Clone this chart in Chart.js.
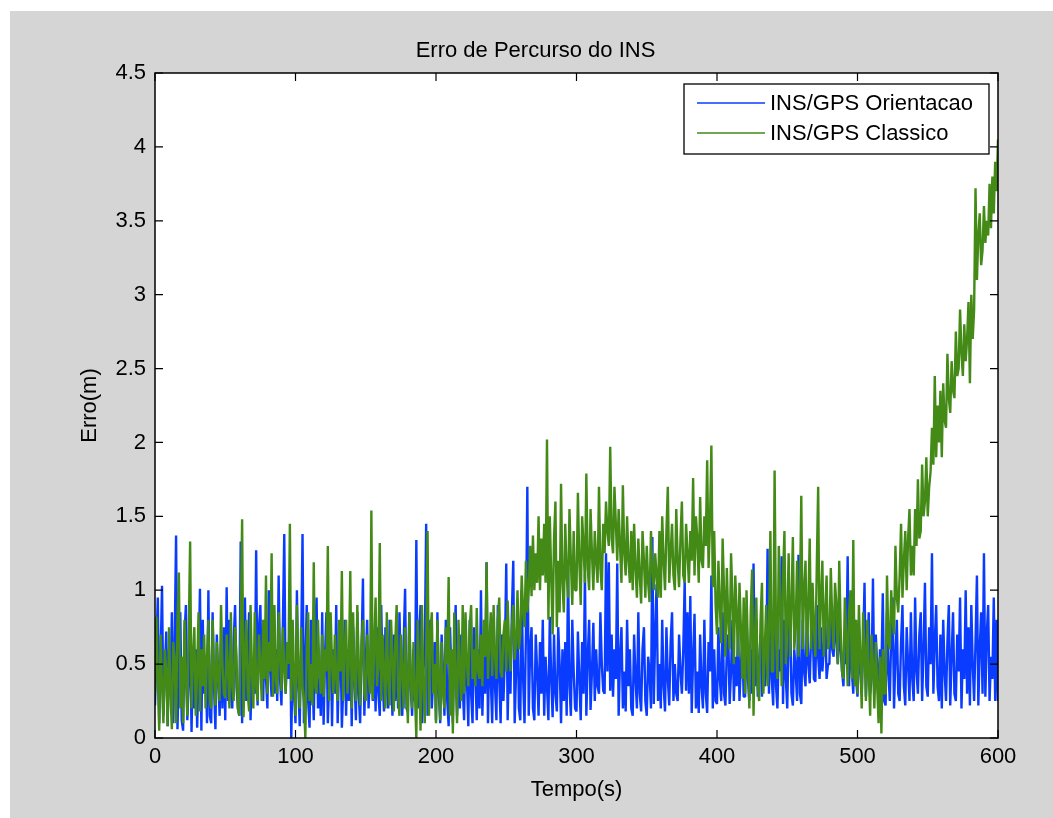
<!DOCTYPE html>
<html>
<head>
<meta charset="utf-8">
<title>Erro de Percurso do INS</title>
<script src="https://cdn.jsdelivr.net/npm/chart.js@4.4.1/dist/chart.umd.min.js"></script>
<style>
  html, body { margin: 0; padding: 0; background: #fff; }
  #wrap { width: 1053px; height: 818px; }
</style>
</head>
<body>
<div id="wrap"><canvas id="erroChart" width="1053" height="818"></canvas></div>
<script>
const dt = 1; // intervalo entre amostras (s)
const seriesLabels = ["INS/GPS Orientacao", "INS/GPS Classico"];
const xTicks = [0, 100, 200, 300, 400, 500, 600];
const yTicks = [0, 0.5, 1, 1.5, 2, 2.5, 3, 3.5, 4, 4.5];

// erro de percurso (m), uma amostra por segundo, de 0 a 600 s (20 s por linha)
const erroOrientacao = [
  0.22, 0.60, 0.95, 0.10, 0.55, 1.03, 0.15, 0.45, 0.72, 0.08, 0.60, 0.30, 0.85, 0.10, 0.65, 1.37, 0.06, 0.50, 0.85, 0.12,
  0.05, 0.70, 0.90, 0.12, 0.40, 0.75, 0.04, 0.55, 0.20, 0.60, 0.07, 0.45, 1.01, 0.05, 0.80, 0.30, 0.55, 0.10, 1.00, 0.15,
  0.10, 0.85, 0.35, 0.06, 0.70, 0.40, 0.15, 0.65, 0.20, 0.75, 0.12, 1.02, 0.25, 0.80, 0.30, 0.20, 0.65, 0.90, 0.35, 0.20,
  0.15, 1.33, 0.10, 0.70, 0.95, 0.25, 0.60, 0.85, 0.12, 0.50, 0.40, 0.30, 1.27, 0.22, 0.75, 0.90, 0.35, 0.25, 0.80, 0.40,
  0.20, 1.00, 0.45, 0.28, 0.85, 0.30, 0.60, 0.25, 1.10, 0.40, 0.22, 0.75, 1.38, 0.30, 0.65, 0.40, 0.95, 0.00, 0.55, 0.30,
  0.10, 1.00, 0.35, 0.08, 0.60, 1.38, 0.10, 0.50, 0.90, 0.25, 0.07, 0.80, 0.45, 0.12, 0.70, 0.95, 0.20, 0.40, 0.15, 0.85,
  0.09, 0.55, 0.85, 0.10, 0.40, 0.75, 0.08, 0.60, 0.30, 0.90, 0.10, 0.50, 0.70, 0.07, 0.35, 0.80, 0.15, 0.60, 0.25, 0.70,
  0.08, 0.75, 0.40, 0.12, 0.85, 0.30, 0.10, 0.60, 1.08, 0.15, 0.50, 0.80, 0.20, 0.45, 0.70, 0.25, 0.60, 0.18, 0.75, 0.30,
  0.15, 0.90, 0.40, 0.18, 0.75, 0.35, 0.20, 0.80, 0.50, 0.15, 0.70, 0.25, 0.60, 0.20, 0.85, 0.40, 0.15, 0.65, 1.01, 0.20,
  0.18, 0.85, 0.35, 0.15, 0.60, 0.25, 1.34, 0.20, 0.70, 0.90, 0.10, 0.45, 0.60, 1.45, 0.15, 0.55, 0.80, 0.20, 0.40, 0.65,
  0.12, 0.85, 0.30, 0.10, 0.70, 0.45, 0.15, 0.80, 0.25, 0.08, 0.75, 0.40, 0.10, 0.60, 0.90, 0.15, 0.50, 0.20, 0.70, 0.35,
  0.12, 0.70, 0.40, 0.08, 0.80, 0.30, 0.10, 0.75, 0.45, 0.12, 0.60, 0.20, 1.00, 0.15, 0.55, 0.30, 1.19, 0.10, 0.65, 0.40,
  0.10, 0.80, 0.35, 0.12, 0.90, 0.40, 0.10, 0.70, 0.25, 0.55, 1.18, 0.12, 0.60, 0.30, 0.85, 1.20, 0.10, 0.45, 0.85, 0.20,
  0.12, 1.00, 0.40, 0.10, 0.70, 1.70, 0.15, 0.60, 0.75, 0.20, 0.12, 0.70, 0.45, 0.15, 0.65, 0.30, 0.80, 0.15, 0.55, 0.35,
  0.12, 0.82, 0.40, 0.14, 0.70, 0.30, 0.18, 0.75, 0.50, 0.10, 0.60, 0.25, 0.65, 0.15, 1.15, 0.35, 0.15, 0.80, 0.45, 0.20,
  0.18, 0.72, 0.40, 0.12, 0.65, 0.30, 1.11, 0.15, 0.55, 0.80, 0.19, 0.45, 0.78, 0.25, 0.60, 0.35, 0.30, 0.85, 0.50, 0.32,
  0.30, 1.25, 0.45, 1.19, 0.32, 0.70, 0.28, 0.60, 0.40, 1.18, 0.15, 0.55, 0.75, 0.20, 0.45, 0.18, 0.80, 0.35, 0.60, 0.20,
  0.15, 0.70, 0.40, 0.20, 0.85, 0.30, 0.18, 0.60, 0.75, 0.25, 0.15, 0.55, 0.45, 0.20, 1.36, 0.23, 0.70, 1.04, 0.25, 0.50,
  0.20, 0.80, 0.35, 0.18, 0.75, 0.40, 0.22, 0.65, 0.85, 0.25, 0.50, 0.30, 0.25, 0.70, 0.45, 0.30, 0.60, 1.06, 0.32, 0.85,
  0.30, 0.96, 0.17, 0.55, 0.84, 0.20, 0.45, 0.17, 0.70, 0.35, 0.20, 0.80, 0.30, 0.17, 0.65, 0.45, 1.10, 0.20, 0.60, 0.25,
  0.23, 0.75, 0.40, 0.25, 0.85, 0.30, 0.22, 0.60, 0.70, 0.23, 0.45, 0.80, 0.25, 0.55, 0.35, 0.75, 0.25, 0.50, 0.65, 0.28,
  0.28, 0.85, 0.40, 0.25, 0.60, 0.30, 1.18, 0.35, 0.80, 0.28, 0.50, 0.70, 0.28, 0.60, 0.35, 0.45, 1.28, 0.30, 0.85, 0.40,
  0.22, 0.90, 0.35, 0.20, 0.60, 0.45, 1.23, 0.23, 0.80, 0.40, 0.20, 0.70, 0.85, 0.30, 0.22, 0.60, 0.45, 0.25, 1.24, 0.30,
  0.23, 0.80, 0.45, 0.35, 0.85, 0.50, 0.37, 0.70, 0.80, 0.40, 0.38, 0.90, 0.55, 0.40, 0.75, 0.45, 0.60, 0.85, 0.40, 0.50,
  0.50, 0.95, 0.60, 0.55, 0.90, 0.65, 0.50, 0.80, 0.60, 0.45, 0.35, 0.70, 0.50, 1.23, 0.35, 0.85, 0.45, 0.30, 0.80, 0.40,
  0.28, 0.75, 0.45, 0.30, 0.60, 1.05, 0.28, 0.55, 0.85, 0.30, 0.40, 1.08, 0.30, 0.70, 0.50, 0.25, 0.60, 0.45, 0.98, 0.25,
  0.22, 0.85, 0.45, 0.25, 0.70, 0.95, 0.20, 0.55, 0.80, 0.30, 0.25, 0.65, 0.90, 0.35, 0.22, 0.75, 0.50, 0.25, 0.85, 0.40,
  0.25, 0.95, 0.45, 0.30, 0.70, 0.85, 0.25, 0.60, 1.05, 0.35, 0.28, 0.75, 0.50, 1.25, 0.30, 0.65, 0.90, 0.35, 0.25, 0.70,
  0.20, 0.80, 0.45, 0.25, 0.65, 0.90, 0.22, 0.55, 0.85, 0.30, 0.25, 0.70, 0.45, 0.95, 0.20, 0.60, 0.40, 1.00, 0.30, 0.75,
  0.22, 0.90, 0.50, 0.25, 0.65, 1.10, 0.22, 0.60, 0.85, 0.30, 1.25, 0.28, 0.70, 0.90, 0.25, 0.55, 0.40, 0.95, 0.25, 0.80,
  0.25
];

const erroClassico = [
  0.30, 0.82, 0.40, 0.05, 0.70, 0.35, 0.10, 0.60, 0.45, 0.08, 0.75, 0.30, 0.06, 0.65, 0.50, 0.10, 0.80, 1.12, 0.20, 0.55,
  0.10, 0.80, 0.40, 0.15, 0.70, 1.33, 0.20, 0.55, 0.75, 0.15, 0.45, 0.85, 0.18, 0.60, 0.35, 0.70, 0.20, 0.55, 0.80, 0.25,
  0.20, 0.80, 0.45, 0.22, 0.65, 0.40, 0.25, 0.90, 0.50, 0.30, 0.27, 0.70, 0.45, 0.20, 0.85, 0.35, 0.25, 0.75, 0.55, 0.20,
  0.15, 0.70, 1.48, 0.14, 0.55, 0.80, 0.30, 0.18, 0.90, 0.45, 0.20, 0.85, 0.35, 0.25, 0.70, 0.50, 0.25, 0.80, 0.40, 1.10,
  0.30, 0.65, 0.45, 1.25, 0.28, 0.90, 0.40, 0.30, 0.85, 0.55, 0.32, 0.75, 0.45, 0.30, 0.65, 0.50, 1.45, 0.25, 0.80, 0.40,
  0.15, 0.90, 0.45, 0.20, 0.75, 0.35, 0.25, 0.00, 0.60, 0.85, 0.25, 0.50, 0.22, 1.19, 0.35, 0.30, 0.80, 0.45, 0.30, 0.70,
  0.28, 0.60, 0.45, 1.30, 0.25, 0.85, 0.50, 0.30, 0.70, 0.40, 0.25, 0.80, 0.45, 1.13, 0.25, 0.60, 0.80, 0.30, 0.50, 1.13,
  0.20, 0.85, 0.40, 0.25, 0.90, 0.50, 0.22, 0.65, 0.80, 0.30, 0.25, 0.70, 0.45, 0.30, 1.54, 0.26, 0.60, 0.95, 0.35, 0.50,
  1.32, 0.25, 0.70, 0.45, 0.20, 0.85, 0.40, 0.22, 0.80, 0.55, 0.18, 0.65, 0.90, 0.30, 0.15, 0.70, 0.45, 0.20, 0.75, 0.35,
  0.10, 0.85, 0.40, 0.20, 0.65, 0.30, 0.00, 0.80, 0.45, 0.05, 0.90, 0.35, 0.10, 0.60, 1.40, 0.15, 0.70, 0.85, 0.30, 0.50,
  0.10, 0.80, 0.40, 0.12, 0.65, 0.30, 0.20, 0.75, 0.50, 1.09, 0.15, 0.60, 0.03, 0.85, 0.40, 0.10, 0.80, 0.45, 0.25, 0.90,
  0.30, 0.85, 0.50, 0.35, 0.75, 0.90, 0.40, 0.60, 0.35, 0.88, 0.45, 0.40, 0.70, 0.35, 0.80, 0.55, 1.19, 0.40, 0.65, 0.85,
  0.42, 0.90, 0.55, 0.40, 0.80, 0.95, 0.45, 0.41, 0.70, 0.80, 0.45, 0.93, 0.60, 0.45, 0.75, 0.90, 0.53, 0.65, 1.00, 0.60,
  0.70, 1.10, 0.85, 0.75, 1.20, 0.85, 1.00, 1.30, 0.96, 1.37, 1.00, 1.25, 1.05, 1.50, 1.00, 1.35, 1.10, 1.45, 1.05, 2.02,
  0.80, 1.50, 1.10, 0.70, 1.35, 1.60, 0.75, 1.20, 0.85, 1.72, 1.05, 0.85, 1.45, 1.10, 0.95, 1.55, 1.20, 0.90, 1.40, 1.00,
  1.00, 1.66, 1.20, 0.90, 1.50, 1.30, 1.05, 1.79, 1.15, 1.00, 1.55, 1.25, 1.00, 1.40, 1.20, 1.05, 1.70, 1.15, 1.00, 1.45,
  1.25, 1.60, 1.40, 1.30, 1.97, 1.35, 1.25, 1.70, 1.45, 1.20, 1.55, 1.30, 1.05, 1.71, 1.25, 1.10, 1.50, 1.20, 1.05, 1.40,
  1.00, 1.45, 1.15, 0.95, 1.35, 1.10, 0.91, 1.40, 1.20, 0.95, 1.30, 1.05, 0.92, 1.40, 1.15, 1.00, 1.25, 1.10, 0.95, 1.40,
  0.95, 1.50, 1.20, 1.00, 1.40, 1.70, 1.05, 1.25, 1.45, 1.10, 1.00, 1.55, 1.20, 1.02, 1.35, 1.60, 1.10, 1.05, 1.45, 1.25,
  1.05, 1.40, 1.20, 1.76, 1.10, 1.50, 1.35, 1.05, 1.63, 1.20, 1.15, 1.50, 1.30, 1.88, 1.15, 1.45, 1.98, 1.02, 1.40, 0.90,
  0.70, 1.20, 0.90, 0.64, 1.35, 1.00, 0.55, 1.15, 0.80, 0.60, 1.25, 0.95, 0.50, 1.10, 0.85, 0.55, 1.05, 0.75, 0.40, 0.95,
  0.30, 1.00, 0.60, 0.20, 0.85, 1.14, 0.15, 0.70, 0.95, 0.35, 0.25, 0.80, 1.05, 0.30, 0.60, 0.90, 0.35, 0.75, 1.40, 0.45,
  0.45, 1.81, 0.70, 0.40, 1.30, 0.95, 0.35, 1.10, 1.40, 0.50, 0.80, 1.25, 0.55, 0.90, 1.36, 0.60, 0.75, 1.20, 0.55, 0.95,
  1.64, 0.60, 1.00, 1.20, 0.55, 0.90, 1.35, 0.60, 1.05, 0.75, 0.55, 1.15, 1.70, 0.60, 0.95, 1.20, 0.55, 0.85, 1.10, 0.60,
  0.65, 1.15, 0.80, 0.60, 1.05, 0.90, 0.50, 1.20, 0.75, 0.45, 0.40, 0.95, 0.70, 0.35, 0.85, 1.00, 0.40, 1.34, 0.35, 0.80,
  0.30, 0.90, 0.55, 0.20, 0.85, 0.60, 0.25, 0.80, 0.45, 0.15, 0.70, 0.50, 0.20, 0.65, 0.35, 0.10, 0.55, 0.03, 0.60, 0.30,
  0.30, 1.10, 0.65, 0.60, 1.00, 0.80, 0.70, 1.30, 0.95, 0.85, 1.10, 1.45, 0.95, 1.20, 1.40, 1.00, 1.35, 1.55, 1.10, 1.30,
  1.10, 1.55, 1.30, 1.75, 1.35, 1.40, 1.85, 1.50, 1.60, 1.90, 1.50, 1.70, 1.80, 2.10, 1.85, 2.45, 1.90, 2.25, 2.00, 2.35,
  1.90, 2.40, 2.15, 2.10, 2.60, 2.30, 2.20, 2.55, 2.35, 2.30, 2.75, 2.45, 2.50, 2.90, 2.60, 2.45, 2.80, 2.55, 2.70, 2.95,
  2.40, 3.00, 2.70, 2.90, 3.72, 3.10, 3.40, 3.55, 3.20, 3.30, 3.60, 3.35, 3.50, 3.40, 3.75, 3.45, 3.80, 3.55, 3.90, 3.70,
  4.05
];

const toPoints = vals => vals.map((v, i) => ({ x: i * dt, y: v }));

const FONT = "'Liberation Sans', Arial, Helvetica, sans-serif";
Chart.defaults.font.family = FONT;
Chart.defaults.font.size = 22;
Chart.defaults.color = '#000';

// fundo cinza da figura, caixa dos eixos com marcas para dentro
const axesBox = {
  id: 'axesBox',
  beforeDraw(chart) {
    const { ctx, chartArea: a } = chart;
    ctx.save();
    ctx.fillStyle = '#fff';
    ctx.fillRect(0, 0, chart.width, chart.height);
    ctx.fillStyle = '#d5d5d5';
    ctx.fillRect(10, 11, chart.width - 10, chart.height - 11);
    ctx.fillStyle = '#fff';
    ctx.fillRect(a.left, a.top, a.right - a.left, a.bottom - a.top);
    ctx.restore();
  },
  afterDatasetsDraw(chart) {
    const { ctx, chartArea: a, scales: { x, y } } = chart;
    const len = 8;
    ctx.save();
    ctx.strokeStyle = '#000';
    ctx.lineWidth = 1.2;
    ctx.beginPath();
    x.ticks.forEach(t => {
      const px = x.getPixelForValue(t.value);
      ctx.moveTo(px, a.bottom); ctx.lineTo(px, a.bottom - len);
      ctx.moveTo(px, a.top); ctx.lineTo(px, a.top + len);
    });
    y.ticks.forEach(t => {
      const py = y.getPixelForValue(t.value);
      ctx.moveTo(a.left, py); ctx.lineTo(a.left + len, py);
      ctx.moveTo(a.right, py); ctx.lineTo(a.right - len, py);
    });
    ctx.stroke();
    ctx.lineWidth = 1.5;
    ctx.strokeRect(a.left, a.top, a.right - a.left, a.bottom - a.top);
    ctx.restore();
  }
};

// legenda no canto superior direito, dentro dos eixos
const boxLegend = {
  id: 'boxLegend',
  afterDraw(chart) {
    const { ctx, chartArea: a } = chart;
    const w = 305, h = 70;
    const left = a.right - 9 - w, top = a.top + 11;
    ctx.save();
    ctx.fillStyle = '#fff';
    ctx.fillRect(left, top, w, h);
    ctx.strokeStyle = '#000';
    ctx.lineWidth = 1.3;
    ctx.strokeRect(left, top, w, h);
    ctx.font = '22px ' + FONT;
    ctx.textBaseline = 'middle';
    ctx.textAlign = 'left';
    chart.data.datasets.forEach((ds, i) => {
      const rowY = top + 19 + i * 30;
      ctx.strokeStyle = ds.borderColor;
      ctx.lineWidth = 1.6;
      ctx.beginPath();
      ctx.moveTo(left + 13, rowY);
      ctx.lineTo(left + 81, rowY);
      ctx.stroke();
      ctx.fillStyle = '#000';
      ctx.fillText(ds.label, left + 86, rowY + 1);
    });
    ctx.restore();
  }
};

new Chart(document.getElementById('erroChart'), {
  type: 'line',
  data: {
    datasets: [
      {
        label: seriesLabels[0],
        data: toPoints(erroOrientacao),
        borderColor: '#0a3cff',
        borderWidth: 2.4,
        borderJoinStyle: 'bevel',
        pointRadius: 0,
        tension: 0,
        order: 1
      },
      {
        label: seriesLabels[1],
        data: toPoints(erroClassico),
        borderColor: '#438a17',
        borderWidth: 2.4,
        borderJoinStyle: 'bevel',
        pointRadius: 0,
        tension: 0,
        order: 0
      }
    ]
  },
  options: {
    responsive: false,
    animation: false,
    events: [],
    layout: { padding: { left: 73, right: 55, top: 11, bottom: 11 } },
    plugins: {
      legend: { display: false },
      tooltip: { enabled: false },
      title: {
        display: true,
        text: 'Erro de Percurso do INS',
        font: { size: 22, weight: 'normal' },
        color: '#000',
        padding: { top: 27.2, bottom: 8.4 }
      }
    },
    scales: {
      x: {
        type: 'linear',
        min: 0,
        max: 600,
        afterBuildTicks: s => { s.ticks = xTicks.map(v => ({ value: v })); },
        afterFit: s => { s.height = 69; },
        grid: { display: false, drawTicks: false },
        border: { display: false },
        ticks: { padding: 6, maxRotation: 0 },
        title: { display: true, text: 'Tempo(s)' }
      },
      y: {
        type: 'linear',
        min: 0,
        max: 4.5,
        afterBuildTicks: s => { s.ticks = yTicks.map(v => ({ value: v })); },
        afterFit: s => { s.width = 82; },
        grid: { display: false, drawTicks: false },
        border: { display: false },
        ticks: { padding: 9, callback: v => String(v) },
        title: { display: true, text: 'Erro(m)' }
      }
    }
  },
  plugins: [axesBox, boxLegend]
});
</script>
</body>
</html>
